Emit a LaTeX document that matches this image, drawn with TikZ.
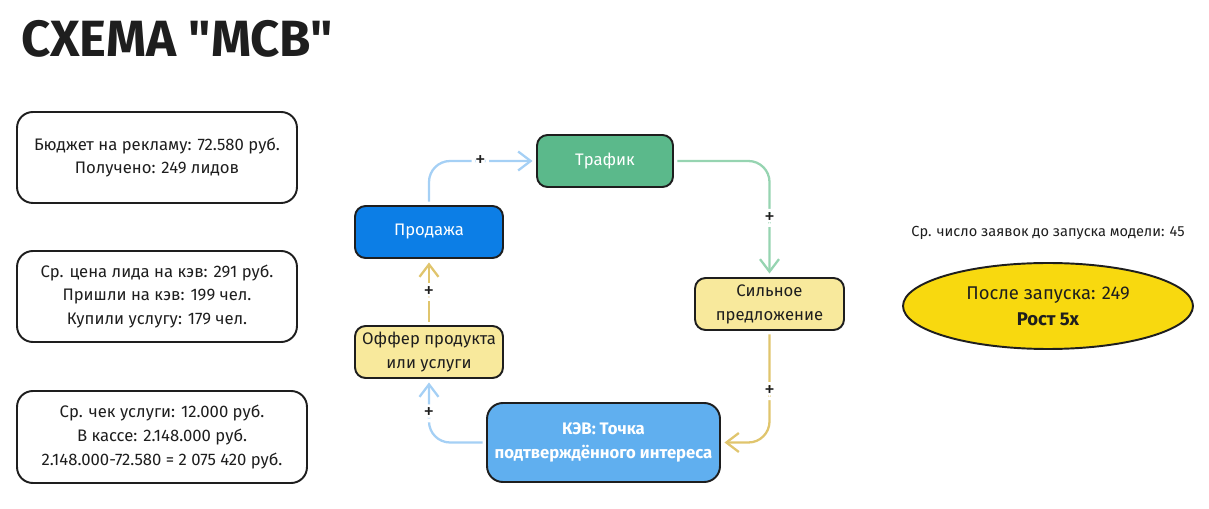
\documentclass[tikz,border=0pt]{standalone}
\usepackage{fontspec}
\setmainfont{Fira Sans}
\newfontfamily\titlefont[Ligatures=TeXOff]{Fira Sans}
\usetikzlibrary{shapes.geometric,arrows.meta}
\definecolor{ink}{HTML}{1E1E1E}
\definecolor{trafgreen}{HTML}{5BB98B}
\definecolor{saleblue}{HTML}{0C7EE6}
\definecolor{paleyellow}{HTML}{F8E99C}
\definecolor{kevblue}{HTML}{60AFEF}
\definecolor{sunyellow}{HTML}{F8D90F}
\definecolor{arrblue}{HTML}{A5D0F5}
\definecolor{arrgreen}{HTML}{96D4B1}
\definecolor{arrochre}{HTML}{E0C56D}
\begin{document}
\begin{tikzpicture}[x=0.02cm, y=-0.02cm,
  box/.style={draw=ink, line width=1.1pt, rounded corners=6pt, align=center, inner sep=0pt, text=ink, font=\fontsize{9.5}{13.6}\selectfont},
  card/.style={box, rounded corners=9pt, minimum width=5.6cm, minimum height=1.82cm},
  cyc/.style={box, minimum width=2.96cm, minimum height=1.04cm},
  link/.style={line width=1.3pt, rounded corners=12pt, -{Straight Barb[length=2.5mm,width=3.8mm]}, shorten >=2pt, shorten <=2pt},
  plus/.style={fill=white, text=ink, inner sep=2pt, font=\fontsize{12}{12}\selectfont}]
\useasboundingbox (0,0) rectangle (1209,509);
\node[anchor=west, text=ink, font=\titlefont\fontsize{29}{30}\selectfont\bfseries] (title) at (15,39) {СХЕМА "МСВ"};
% left column
\node[card] (b1) at (157,157.5) {Бюджет на рекламу: 72.580 руб.\\Получено: 249 лидов};
\node[card] (b2) at (157,296.5) {Ср. цена лида на кэв: 291 руб.\\Пришли на кэв: 199 чел.\\Купили услугу: 179 чел.};
\node[card, minimum width=5.8cm, minimum height=1.84cm] (b3) at (162,437) {Ср. чек услуги: 12.000 руб.\\В кассе: 2.148.000 руб.\\2.148.000-72.580 = 2 075 420 руб.};
% cycle
\node[cyc, fill=trafgreen, text=white, minimum width=2.72cm] (c1) at (605,161) {Трафик};
\node[cyc, fill=paleyellow, minimum width=2.98cm] (c2) at (769.5,304) {Сильное\\предложение};
\node[box, fill=kevblue, text=white, rounded corners=9pt, minimum width=4.66cm, minimum height=1.58cm, font=\fontsize{9.5}{14}\selectfont\bfseries] (c3) at (603.5,442.5) {КЭВ: Точка\\подтверждённого интереса};
\node[cyc, fill=paleyellow] (c4) at (429,352) {Оффер продукта\\или услуги};
\node[cyc, fill=saleblue, text=white] (c5) at (429,232) {Продажа};
\draw[link, arrblue] (c5.north) |- node[plus, pos=0.74] {+} (c1.west);
\draw[link, arrgreen] (c1.east) -| node[plus, pos=0.745] {+} (c2.north);
\draw[link, arrochre] (c2.south) |- node[plus, pos=0.27] {+} (c3.east);
\draw[link, arrblue] (c3.west) -| node[plus, pos=0.73] {+} (c4.south);
\draw[link, arrochre] (c4.north) -- node[plus] {+} (c5.south);
% result
\node[text=ink, font=\fontsize{8.3}{9}\selectfont] (note) at (1048,233) {Ср. число заявок до запуска модели: 45};
\node[ellipse, draw=ink, line width=1.1pt, fill=sunyellow, minimum width=5.8cm, minimum height=1.72cm, align=center, inner sep=0pt, text=ink, font=\fontsize{10.5}{15}\selectfont] (res) at (1048,306) {После запуска: 249\\\textbf{Рост 5x}};
\end{tikzpicture}
\end{document}
